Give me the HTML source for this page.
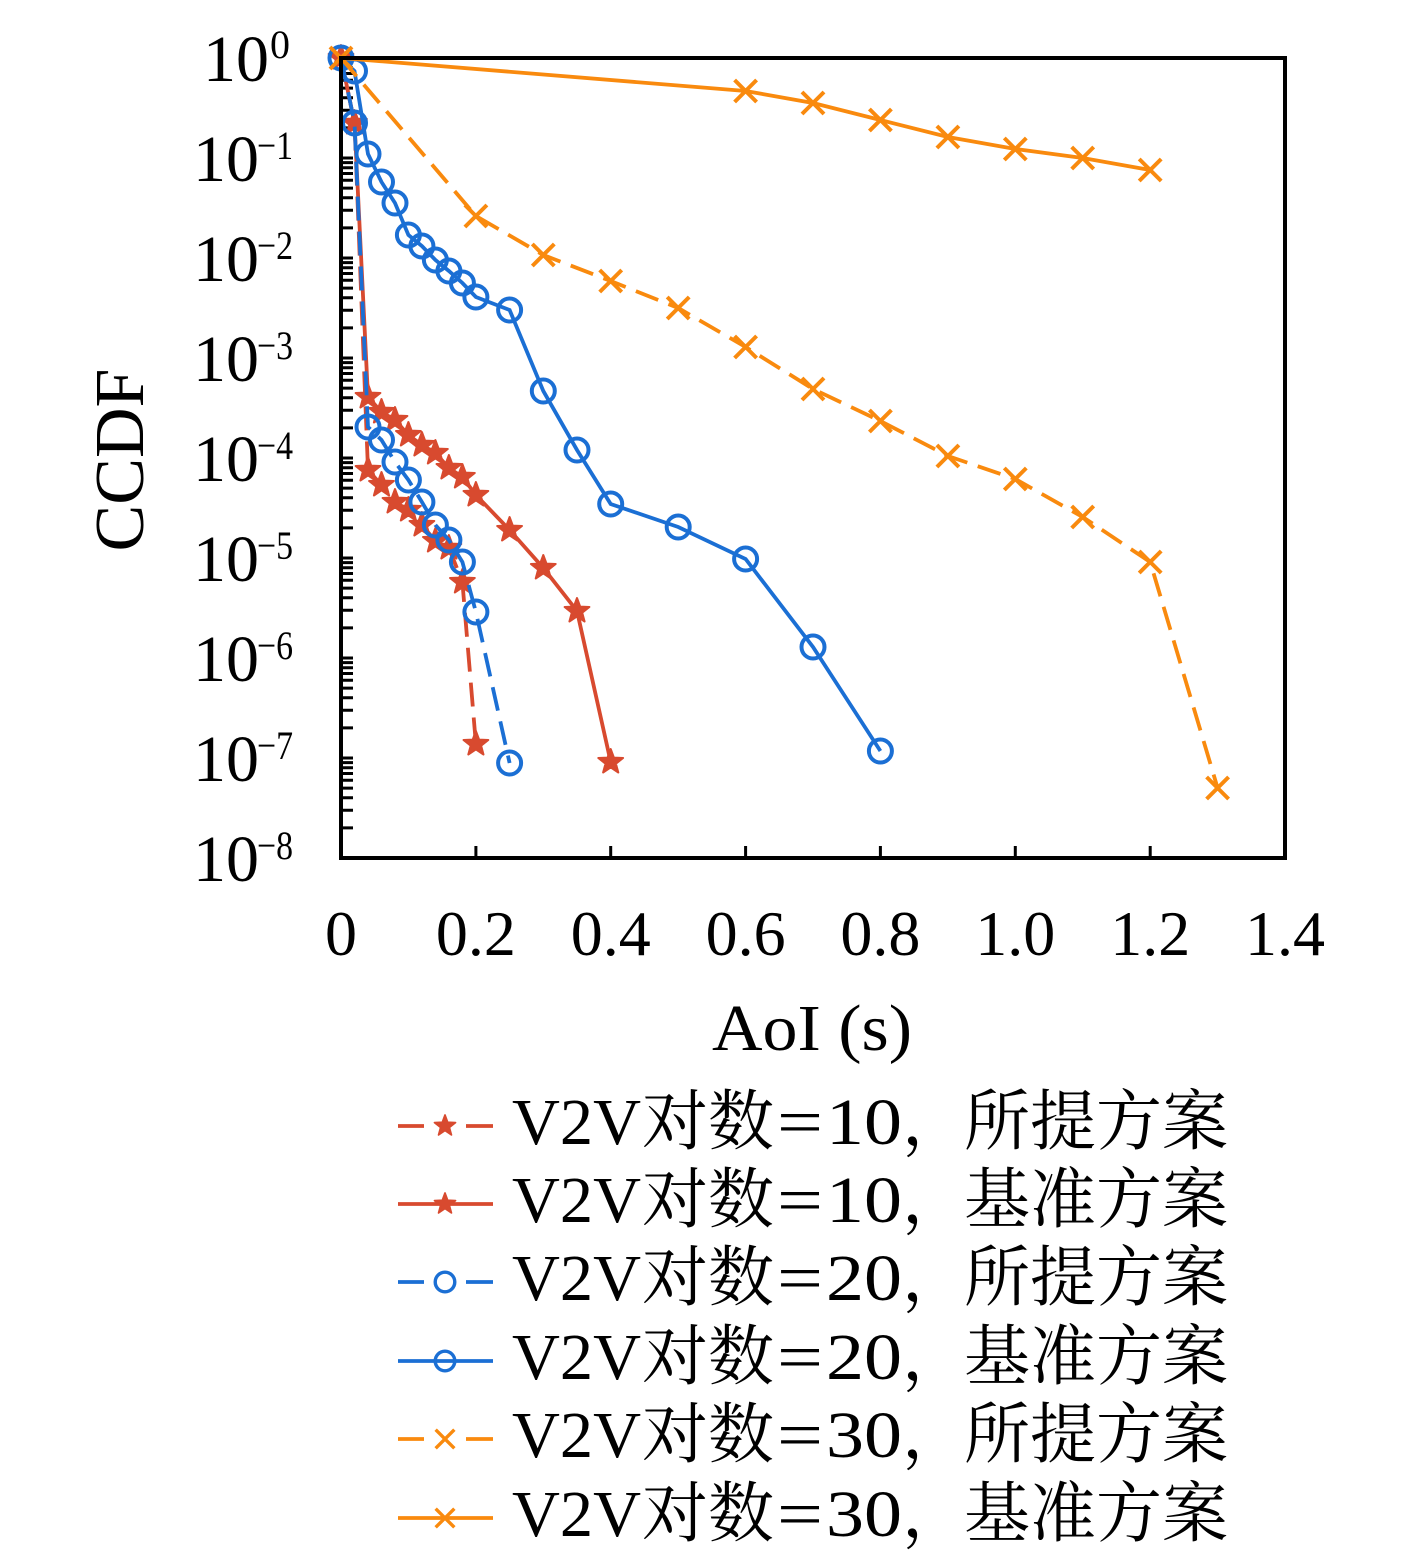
<!DOCTYPE html>
<html><head><meta charset="utf-8"><style>
html,body{margin:0;padding:0;background:#fff;}
svg{display:block;}
text{font-family:"Liberation Serif","Noto Serif CJK SC",serif;fill:#000;}
</style></head><body>
<svg width="1417" height="1558" viewBox="0 0 1417 1558" xmlns="http://www.w3.org/2000/svg">
<defs>
<path id="st" d="M0,-13 L3.2,-4.4 L12.4,-4 L5.2,1.7 L7.6,10.5 L0,5.4 L-7.6,10.5 L-5.2,1.7 L-12.4,-4 L-3.2,-4.4Z" fill="#D84A2F" stroke="#D84A2F" stroke-width="2" stroke-linejoin="round"/>
<circle id="ci" r="11.5" fill="none" stroke="#1B6FD4" stroke-width="4"/>
<path id="cr" d="M-11,-11L11,11M11,-11L-11,11" stroke="#F98A0E" stroke-width="4" fill="none"/>
<path id="dec" d="M341,0h12M341,4.6h12M341,9.7h12M341,15.5h12M341,22.2h12M341,30.1h12M341,39.8h12M341,52.3h12M341,69.9h12" stroke="#000" stroke-width="3" fill="none"/>
</defs>

<!-- y ticks -->
<use href="#dec" transform="translate(0,58)"/>
<use href="#dec" transform="translate(0,158)"/>
<use href="#dec" transform="translate(0,258)"/>
<use href="#dec" transform="translate(0,358)"/>
<use href="#dec" transform="translate(0,458)"/>
<use href="#dec" transform="translate(0,558)"/>
<use href="#dec" transform="translate(0,658)"/>
<use href="#dec" transform="translate(0,758)"/>
<!-- x ticks -->
<path d="M475.9,858v-12M610.7,858v-12M745.6,858v-12M880.4,858v-12M1015.3,858v-12M1150.2,858v-12" stroke="#000" stroke-width="3"/>

<!-- red dashed -->
<polyline points="341,58 354.5,123 368,470 381.5,485 395,502 408.4,510 421.9,525 435.4,541 448.9,548 462.4,582 475.9,744" fill="none" stroke="#D84A2F" stroke-width="3.8" stroke-dasharray="24 11"/>
<g>
<use href="#st" x="341" y="58"/><use href="#st" x="354.5" y="123"/><use href="#st" x="368" y="470"/><use href="#st" x="381.5" y="485"/><use href="#st" x="395" y="502"/><use href="#st" x="408.4" y="510"/><use href="#st" x="421.9" y="525"/><use href="#st" x="435.4" y="541"/><use href="#st" x="448.9" y="548"/><use href="#st" x="462.4" y="582"/><use href="#st" x="475.9" y="744"/>
</g>
<!-- red solid -->
<polyline points="341,58 354.5,123 368,397 381.5,412 395,420 408.4,435 421.9,445 435.4,453 448.9,468 462.4,477 475.9,495 509.6,530 543.3,568 577,611 610.7,762" fill="none" stroke="#D84A2F" stroke-width="3.8"/>
<g>
<use href="#st" x="368" y="397"/><use href="#st" x="381.5" y="412"/><use href="#st" x="395" y="420"/><use href="#st" x="408.4" y="435"/><use href="#st" x="421.9" y="445"/><use href="#st" x="435.4" y="453"/><use href="#st" x="448.9" y="468"/><use href="#st" x="462.4" y="477"/><use href="#st" x="475.9" y="495"/><use href="#st" x="509.6" y="530"/><use href="#st" x="543.3" y="568"/><use href="#st" x="577" y="611"/><use href="#st" x="610.7" y="762"/>
</g>
<!-- blue dashed -->
<polyline points="341,58 354.5,123 368,427 381.5,440 395,462 408.4,480 421.9,502 435.4,525 448.9,540 462.4,562 475.9,612 509.6,763" fill="none" stroke="#1B6FD4" stroke-width="3.8" stroke-dasharray="24 11"/>
<g>
<use href="#ci" x="341" y="58"/><use href="#ci" x="354.5" y="123"/><use href="#ci" x="368" y="427"/><use href="#ci" x="381.5" y="440"/><use href="#ci" x="395" y="462"/><use href="#ci" x="408.4" y="480"/><use href="#ci" x="421.9" y="502"/><use href="#ci" x="435.4" y="525"/><use href="#ci" x="448.9" y="540"/><use href="#ci" x="462.4" y="562"/><use href="#ci" x="475.9" y="612"/><use href="#ci" x="509.6" y="763"/>
</g>
<!-- blue solid -->
<polyline points="341,58 354.5,71 368,154 381.5,182 395,203 408.4,235 421.9,246 435.4,260 448.9,271 462.4,283 475.9,297 509.6,310 543.3,391 577,450 610.7,504 678.2,527 745.6,559 813,647 880.4,751" fill="none" stroke="#1B6FD4" stroke-width="3.8"/>
<g>
<use href="#ci" x="354.5" y="71"/><use href="#ci" x="368" y="154"/><use href="#ci" x="381.5" y="182"/><use href="#ci" x="395" y="203"/><use href="#ci" x="408.4" y="235"/><use href="#ci" x="421.9" y="246"/><use href="#ci" x="435.4" y="260"/><use href="#ci" x="448.9" y="271"/><use href="#ci" x="462.4" y="283"/><use href="#ci" x="475.9" y="297"/><use href="#ci" x="509.6" y="310"/><use href="#ci" x="543.3" y="391"/><use href="#ci" x="577" y="450"/><use href="#ci" x="610.7" y="504"/><use href="#ci" x="678.2" y="527"/><use href="#ci" x="745.6" y="559"/><use href="#ci" x="813" y="647"/><use href="#ci" x="880.4" y="751"/>
</g>
<!-- orange dashed -->
<polyline points="341,58 475.9,216 543.3,255 610.7,281 678.2,308 745.6,347 813,389 880.4,421 947.9,456 1015.3,479 1082.7,517 1150.2,562 1217.6,788" fill="none" stroke="#F98A0E" stroke-width="3.8" stroke-dasharray="24 11"/>
<g>
<use href="#cr" x="341" y="58"/><use href="#cr" x="475.9" y="216"/><use href="#cr" x="543.3" y="255"/><use href="#cr" x="610.7" y="281"/><use href="#cr" x="678.2" y="308"/><use href="#cr" x="745.6" y="347"/><use href="#cr" x="813" y="389"/><use href="#cr" x="880.4" y="421"/><use href="#cr" x="947.9" y="456"/><use href="#cr" x="1015.3" y="479"/><use href="#cr" x="1082.7" y="517"/><use href="#cr" x="1150.2" y="562"/><use href="#cr" x="1217.6" y="788"/>
</g>
<!-- orange solid -->
<polyline points="341,58 745.6,91 813,103 880.4,120 947.9,137 1015.3,149 1082.7,158 1150.2,170" fill="none" stroke="#F98A0E" stroke-width="3.8"/>
<g>
<use href="#cr" x="745.6" y="91"/><use href="#cr" x="813" y="103"/><use href="#cr" x="880.4" y="120"/><use href="#cr" x="947.9" y="137"/><use href="#cr" x="1015.3" y="149"/><use href="#cr" x="1082.7" y="158"/><use href="#cr" x="1150.2" y="170"/>
</g>

<!-- frame -->
<rect x="341" y="58" width="944" height="800" fill="none" stroke="#000" stroke-width="4"/>

<!-- y tick labels -->
<g font-size="66">
<text x="269" y="81" text-anchor="end">10</text>
<text x="259" y="181" text-anchor="end">10</text>
<text x="259" y="281" text-anchor="end">10</text>
<text x="259" y="381" text-anchor="end">10</text>
<text x="259" y="481" text-anchor="end">10</text>
<text x="259" y="581" text-anchor="end">10</text>
<text x="259" y="681" text-anchor="end">10</text>
<text x="259" y="781" text-anchor="end">10</text>
<text x="259" y="881" text-anchor="end">10</text>
</g>
<g font-size="40">
<text x="270" y="58">0</text>
<text x="257" y="159" textLength="36" lengthAdjust="spacingAndGlyphs">−1</text>
<text x="257" y="259" textLength="36" lengthAdjust="spacingAndGlyphs">−2</text>
<text x="257" y="359" textLength="36" lengthAdjust="spacingAndGlyphs">−3</text>
<text x="257" y="459" textLength="36" lengthAdjust="spacingAndGlyphs">−4</text>
<text x="257" y="559" textLength="36" lengthAdjust="spacingAndGlyphs">−5</text>
<text x="257" y="659" textLength="36" lengthAdjust="spacingAndGlyphs">−6</text>
<text x="257" y="759" textLength="36" lengthAdjust="spacingAndGlyphs">−7</text>
<text x="257" y="859" textLength="36" lengthAdjust="spacingAndGlyphs">−8</text>
</g>

<!-- x tick labels -->
<g font-size="64" text-anchor="middle">
<text x="341" y="955">0</text>
<text x="475.9" y="955">0.2</text>
<text x="610.7" y="955">0.4</text>
<text x="745.6" y="955">0.6</text>
<text x="880.4" y="955">0.8</text>
<text x="1015.3" y="955">1.0</text>
<text x="1150.2" y="955">1.2</text>
<text x="1285" y="955">1.4</text>
</g>

<!-- axis labels -->
<text x="712" y="1050" font-size="66" textLength="200" lengthAdjust="spacingAndGlyphs">AoI (s)</text>
<text transform="translate(143,460) rotate(-90)" text-anchor="middle" font-size="70">CCDF</text>

<!-- legend -->
<g>
<path d="M398,1126h26M466,1126h27" stroke="#D84A2F" stroke-width="3.8"/>
<use href="#st" transform="translate(445,1126) scale(0.85)"/>
<path d="M398,1204h95" stroke="#D84A2F" stroke-width="3.8"/>
<use href="#st" transform="translate(445,1204) scale(0.85)"/>
<path d="M398,1282h26M466,1282h27" stroke="#1B6FD4" stroke-width="3.8"/>
<use href="#ci" transform="translate(445,1282) scale(0.85)"/>
<path d="M398,1361h95" stroke="#1B6FD4" stroke-width="3.8"/>
<use href="#ci" transform="translate(445,1361) scale(0.85)"/>
<path d="M398,1439h26M466,1439h27" stroke="#F98A0E" stroke-width="3.8"/>
<use href="#cr" transform="translate(445,1439) scale(0.85)"/>
<path d="M398,1518h95" stroke="#F98A0E" stroke-width="3.8"/>
<use href="#cr" transform="translate(445,1518) scale(0.85)"/>
</g>
<g font-size="66">
<text y="1144"><tspan x="512" textLength="129" lengthAdjust="spacingAndGlyphs">V2V</tspan><tspan x="642">对数</tspan><tspan x="777" textLength="46" lengthAdjust="spacingAndGlyphs">=</tspan><tspan x="826" textLength="76" lengthAdjust="spacingAndGlyphs">10</tspan><tspan x="902">，</tspan><tspan x="964" textLength="264" lengthAdjust="spacingAndGlyphs">所提方案</tspan></text>
<text y="1222"><tspan x="512" textLength="129" lengthAdjust="spacingAndGlyphs">V2V</tspan><tspan x="642">对数</tspan><tspan x="777" textLength="46" lengthAdjust="spacingAndGlyphs">=</tspan><tspan x="826" textLength="76" lengthAdjust="spacingAndGlyphs">10</tspan><tspan x="902">，</tspan><tspan x="964" textLength="264" lengthAdjust="spacingAndGlyphs">基准方案</tspan></text>
<text y="1300"><tspan x="512" textLength="129" lengthAdjust="spacingAndGlyphs">V2V</tspan><tspan x="642">对数</tspan><tspan x="777" textLength="46" lengthAdjust="spacingAndGlyphs">=</tspan><tspan x="826" textLength="76" lengthAdjust="spacingAndGlyphs">20</tspan><tspan x="902">，</tspan><tspan x="964" textLength="264" lengthAdjust="spacingAndGlyphs">所提方案</tspan></text>
<text y="1379"><tspan x="512" textLength="129" lengthAdjust="spacingAndGlyphs">V2V</tspan><tspan x="642">对数</tspan><tspan x="777" textLength="46" lengthAdjust="spacingAndGlyphs">=</tspan><tspan x="826" textLength="76" lengthAdjust="spacingAndGlyphs">20</tspan><tspan x="902">，</tspan><tspan x="964" textLength="264" lengthAdjust="spacingAndGlyphs">基准方案</tspan></text>
<text y="1457"><tspan x="512" textLength="129" lengthAdjust="spacingAndGlyphs">V2V</tspan><tspan x="642">对数</tspan><tspan x="777" textLength="46" lengthAdjust="spacingAndGlyphs">=</tspan><tspan x="826" textLength="76" lengthAdjust="spacingAndGlyphs">30</tspan><tspan x="902">，</tspan><tspan x="964" textLength="264" lengthAdjust="spacingAndGlyphs">所提方案</tspan></text>
<text y="1536"><tspan x="512" textLength="129" lengthAdjust="spacingAndGlyphs">V2V</tspan><tspan x="642">对数</tspan><tspan x="777" textLength="46" lengthAdjust="spacingAndGlyphs">=</tspan><tspan x="826" textLength="76" lengthAdjust="spacingAndGlyphs">30</tspan><tspan x="902">，</tspan><tspan x="964" textLength="264" lengthAdjust="spacingAndGlyphs">基准方案</tspan></text>
</g>
</svg>
</body></html>
